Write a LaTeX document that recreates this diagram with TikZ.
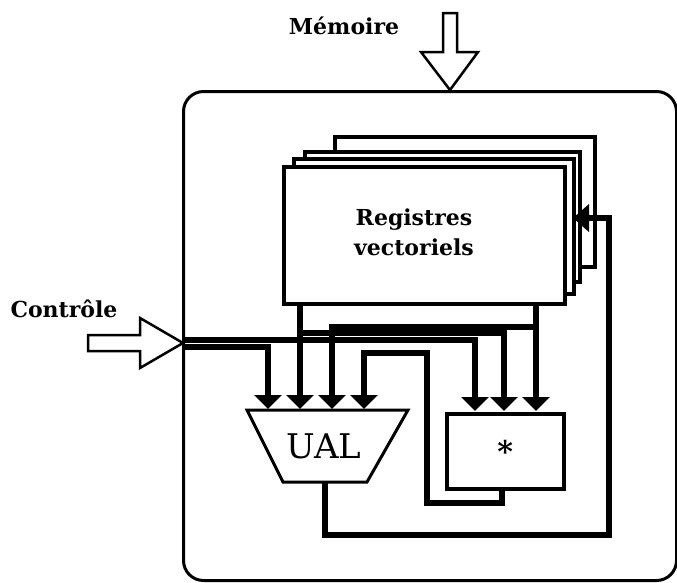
\documentclass[tikz,border=0pt]{standalone}
\usepackage{fontspec}
\setmainfont{DejaVu Serif}
\usetikzlibrary{arrows.meta}
\begin{document}
\begin{tikzpicture}[x=1pt,y=-1pt,
  bus/.style={line width=5.5pt},
  busarrow/.style={bus,-{Triangle[width=27pt,length=14pt]}},
  fbarrow/.style={bus,-{Triangle[width=27pt,length=16pt]}},
  regbox/.style={draw,fill=white,line width=3.5pt,anchor=north west,inner sep=0pt},
  blockarrow/.style={draw,fill=white,line width=2.5pt,line join=miter},
  lbl/.style={font=\bfseries\fontsize{22}{30}\selectfont},
]
\useasboundingbox (0,0) rectangle (677,582);
% outer processor box
\node[draw,rounded corners=20pt,line width=3pt,anchor=north west,inner sep=0pt,
      minimum width=493pt,minimum height=489pt] (cpu) at (182,90) {};
% memory input arrow
\coordinate (memtip) at (450,90);
\draw[blockarrow] (443,13) -- (457,13) -- (457,52) -- (478,52) -- (memtip)
  -- (421,52) -- (443,52) -- cycle;
\node[lbl] (memlbl) at (344,26) {Mémoire};
% control input arrow
\coordinate (ctltip) at (183,343);
\draw[blockarrow] (88,335) -- (140,335) -- (140,318) -- (ctltip)
  -- (140,368) -- (140,351) -- (88,351) -- cycle;
\node[lbl] (ctllbl) at (64,309) {Contrôle};
% vector registers (stack)
\node[regbox,minimum width=260pt,minimum height=130pt] (r4) at (333,135) {};
\node[regbox,minimum width=275pt,minimum height=130pt] (r3) at (303,150) {};
\node[regbox,minimum width=280pt,minimum height=135pt] (r2) at (292,157) {};
\node[regbox,minimum width=281pt,minimum height=137pt] (r1) at (282,165) {};
\node[lbl,align=center] (regtxt) at (414,232) {Registres\\vectoriels};
% ports
\coordinate (rA) at (300,302);
\coordinate (rB) at (536,302);
\coordinate (rAb) at (300,333);
\coordinate (rBb) at (536,327);
\coordinate (ual1) at (268,409);
\coordinate (ual2) at (300,409);
\coordinate (ual3) at (332,409);
\coordinate (ual4) at (364,409);
\coordinate (mul1) at (475,411);
\coordinate (mul2) at (504,411);
\coordinate (mul3) at (536,411);
\coordinate (ctlA) at (183,340);
\coordinate (ctlB) at (183,347);
% buses
\draw[busarrow] (rA) -- (ual2);
\draw[busarrow] (rAb) -| (mul2);
\draw[busarrow] (rB) -- (mul3);
\draw[busarrow] (rBb) -| (ual3);
\draw[busarrow] (ctlA) -| (mul1);
\draw[busarrow] (ctlB) -| (ual1);
% UAL
\draw[line width=3pt,fill=white] (247,410) -- (408,410) -- (367,482) -- (283,482) -- cycle;
\node[font=\fontsize{34}{36}\selectfont] (ual) at (324,446) {UAL};
% multiplier
\node[draw,line width=3.5pt,anchor=north west,inner sep=0pt,
      minimum width=117pt,minimum height=75pt,font=\bfseries\fontsize{30}{30}\selectfont]
      (mul) at (445,412) {\raisebox{-9pt}{*}};
% outputs
\coordinate (mulout) at (502,487);
\coordinate (ualout) at (325,482);
\coordinate (fbtip) at (573,218);
\draw[busarrow] (mulout) -- (502,503) -| (427,353) -| (ual4);
\draw[fbarrow] (ualout) |- (609,535) |- (fbtip);
\end{tikzpicture}
\end{document}
